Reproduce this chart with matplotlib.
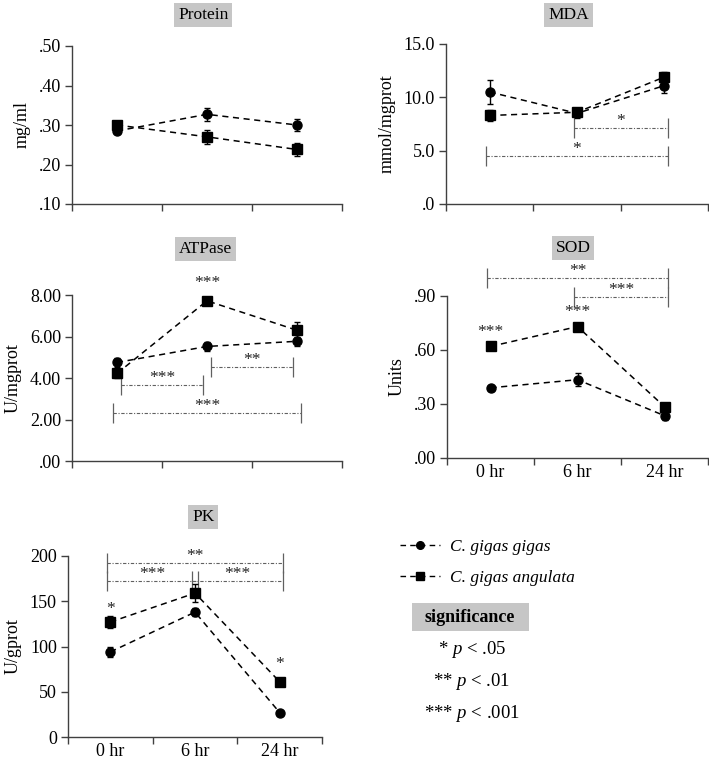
import matplotlib
matplotlib.use("Agg")
import matplotlib.pyplot as plt
from matplotlib.patches import Rectangle
from matplotlib.lines import Line2D
from matplotlib.ticker import FixedLocator, FuncFormatter, NullFormatter

plt.rcParams['font.family'] = ['Liberation Serif', 'DejaVu Serif']
plt.rcParams['mathtext.fontset'] = 'custom'
plt.rcParams['mathtext.it'] = 'Liberation Serif:italic'
plt.rcParams['mathtext.rm'] = 'Liberation Serif'

# ---------------- data ----------------
times = ["0 hr", "6 hr", "24 hr"]
species = ["C. gigas gigas", "C. gigas angulata"]

protein_gigas = [0.285, 0.327, 0.300]
protein_gigas_err = [0.005, 0.016, 0.015]
protein_angulata = [0.300, 0.270, 0.238]
protein_angulata_err = [0.006, 0.018, 0.016]

mda_gigas = [10.5, 8.5, 11.1]
mda_gigas_err = [1.15, 0.4, 0.65]
mda_angulata = [8.3, 8.6, 11.9]
mda_angulata_err = [0.5, 0.4, 0.5]

atpase_gigas = [4.75, 5.52, 5.77]
atpase_gigas_err = [0.2, 0.2, 0.22]
atpase_angulata = [4.22, 7.72, 6.30]
atpase_angulata_err = [0.2, 0.1, 0.42]

sod_gigas = [0.39, 0.435, 0.235]
sod_gigas_err = [0.012, 0.035, 0.025]
sod_angulata = [0.62, 0.73, 0.285]
sod_angulata_err = [0.01, 0.012, 0.012]

pk_gigas = [94, 138, 27]
pk_gigas_err = [6, 4, 2]
pk_angulata = [127, 159, 61]
pk_angulata_err = [7, 10, 3]

# significance marks above single time points: (time index, height, label)
atpase_point_sig = [(1, 8.58, "***")]
sod_point_sig = [(0, 0.70, "***"), (1, 0.81, "***")]
pk_point_sig = [(0, 141, "*"), (2, 81, "*")]

# significance brackets between time points: (from, to, height, label)
mda_brackets = [(1, 2, 7.1, "*"), (0, 2, 4.5, "*")]
atpase_brackets = [(0, 1, 3.65, "***"), (1, 2, 4.55, "**"), (0, 2, 2.3, "***")]
sod_brackets = [(0, 2, 1.0, "**"), (1, 2, 0.895, "***")]
pk_brackets = [(0, 2, 192, "**"), (0, 1, 172, "***"), (1, 2, 172, "***")]

sig_legend = ["* $p$ < .05", "** $p$ < .01", "*** $p$ < .001"]

# ---------------- figure ----------------
W, H = 709, 760
fig = plt.figure(figsize=(W / 100, H / 100), dpi=100)


def rect(l, t, r, b):
    return [l / W, 1 - b / H, (r - l) / W, (b - t) / H]


panels = [
    dict(title="Protein", ylabel="mg/ml", rect=rect(72, 46, 342, 204), ylim=(0.10, 0.50),
         yticks=[0.10, 0.20, 0.30, 0.40, 0.50], dec=2,
         g=protein_gigas, ge=protein_gigas_err, a=protein_angulata, ae=protein_angulata_err,
         pts=[], br=[], xlab=False, tx=0.487, ty=31),
    dict(title="MDA", ylabel="mmol/mgprot", rect=rect(446, 44, 708, 204), ylim=(0, 15),
         yticks=[0, 5, 10, 15], dec=1,
         g=mda_gigas, ge=mda_gigas_err, a=mda_angulata, ae=mda_angulata_err,
         pts=[], br=mda_brackets, xlab=False, tx=0.468, ty=29),
    dict(title="ATPase", ylabel="U/mgprot", rect=rect(72, 295, 342, 461), ylim=(0, 8),
         yticks=[0, 2, 4, 6, 8], dec=2,
         g=atpase_gigas, ge=atpase_gigas_err, a=atpase_angulata, ae=atpase_angulata_err,
         pts=atpase_point_sig, br=atpase_brackets, xlab=False, tx=0.496, ty=46),
    dict(title="SOD", ylabel="Units", rect=rect(447, 296, 708, 458), ylim=(0, 0.9),
         yticks=[0, 0.3, 0.6, 0.9], dec=2,
         g=sod_gigas, ge=sod_gigas_err, a=sod_angulata, ae=sod_angulata_err,
         pts=sod_point_sig, br=sod_brackets, xlab=True, tx=0.483, ty=48),
    dict(title="PK", ylabel="U/gprot", rect=rect(68, 556, 322, 737), ylim=(0, 200),
         yticks=[0, 50, 100, 150, 200], dec=0,
         g=pk_gigas, ge=pk_gigas_err, a=pk_angulata, ae=pk_angulata_err,
         pts=pk_point_sig, br=pk_brackets, xlab=True, tx=0.533, ty=39),
]

AX_COL = "#404040"
BR_COL = "#606060"
BOX_COL = "#c6c6c6"
TICK_FS = 13
PX2PT = 0.72
LS = (0, (4, 3))


def make_fmt(dec):
    def f(v, pos):
        if dec == 0:
            return f"{v:.0f}"
        s = f"{v:.{dec}f}"
        if s.startswith("0"):
            s = s[1:]
        return s
    return FuncFormatter(f)


xpos = [i + 0.5 for i in range(len(times))]

for p in panels:
    ax = fig.add_axes(p["rect"])
    for side in ("top", "right"):
        ax.spines[side].set_visible(False)
    for side in ("left", "bottom"):
        ax.spines[side].set_color(AX_COL)
        ax.spines[side].set_linewidth(1.0)
    ax.set_xlim(0, len(times))
    ax.set_ylim(*p["ylim"])
    ax.yaxis.set_major_locator(FixedLocator(p["yticks"]))
    ax.yaxis.set_major_formatter(make_fmt(p["dec"]))
    ax.xaxis.set_major_locator(FixedLocator(range(len(times) + 1)))
    ax.xaxis.set_major_formatter(NullFormatter())
    ax.tick_params(axis="both", which="major", direction="out", length=5, width=1,
                   color=AX_COL, labelsize=TICK_FS, pad=3)
    if p["xlab"]:
        ax.xaxis.set_minor_locator(FixedLocator(xpos))
        ax.set_xticklabels(times, minor=True)
        ax.tick_params(axis="x", which="minor", length=0, labelsize=TICK_FS, pad=4)
    ax.set_ylabel(p["ylabel"], fontsize=13, labelpad=6)

    ax.errorbar(xpos, p["g"], yerr=p["ge"], color="black", ls=LS, lw=1.1,
                marker="o", ms=6.5, capsize=2.5, elinewidth=1, capthick=1, zorder=3)
    ax.errorbar(xpos, p["a"], yerr=p["ae"], color="black", ls=LS, lw=1.1,
                marker="s", ms=6.5, capsize=2.5, elinewidth=1, capthick=1, zorder=3)

    for i, y, lab in p["pts"]:
        ax.text(xpos[i], y, lab, ha="center", va="center", fontsize=12.5,
                color="#222222", clip_on=False)

    for i, j, y, lab in p["br"]:
        pad = -0.04 if (j - i == 1 and p["title"] == "ATPase") else 0.04
        x0, x1 = xpos[i] - pad, xpos[j] + pad
        ax.plot([x0, x1], [y, y], color=BR_COL, lw=0.8, ls=(0, (3, 1.5, 1, 1.5)),
                marker="|", ms=15, mew=0.9, clip_on=False, zorder=2)
        ax.annotate(lab, xy=((x0 + x1) / 2, y), xytext=(0, 5), textcoords="offset points",
                    ha="center", va="center", fontsize=12.5, color="#222222",
                    annotation_clip=False)

    ax.annotate(p["title"], xy=(p["tx"], 1), xycoords="axes fraction",
                xytext=(0, p["ty"] * PX2PT), textcoords="offset points",
                ha="center", va="center", fontsize=12.5,
                bbox=dict(boxstyle="square,pad=0.22", fc=BOX_COL, ec="none"))

# legend of species
handles = [Line2D([], [], color="black", ls=LS, lw=1.0, marker=m, ms=5.5)
           for m in ("o", "s")]
leg = fig.legend(handles, species, loc="upper left", bbox_to_anchor=(400 / W, 1 - 539 / H),
                 frameon=False, handlelength=2.3, handletextpad=0.6, labelspacing=0.85,
                 borderpad=0, borderaxespad=0, prop=dict(style="italic", size=12.5))

# significance key
fig.patches.append(Rectangle((412 / W, 1 - 631 / H), 117 / W, 28 / H,
                             transform=fig.transFigure, fc=BOX_COL, ec="none"))
fig.text(470 / W, 1 - 617 / H, "significance", ha="center", va="center",
         fontsize=13, fontweight="bold")
for txt, yy in zip(sig_legend, [650, 682, 713]):
    fig.text(472 / W, 1 - yy / H, txt, ha="center", va="center", fontsize=13.5)

fig.savefig("out.png", dpi=100)
